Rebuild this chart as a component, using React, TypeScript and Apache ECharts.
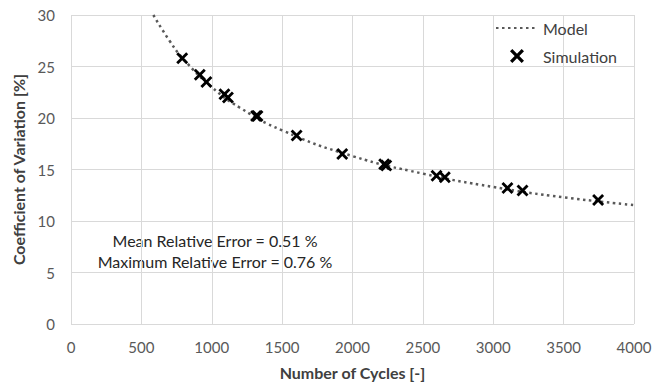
import React, { useEffect, useRef } from "react";
import * as echarts from "echarts";

const modelX = [585, 700, 800, 1000, 1200, 1500, 2000, 2500, 3000, 3500, 4000];
const modelY = [30.0, 27.5, 25.7, 23.0, 21.0, 18.8, 16.3, 14.6, 13.3, 12.3, 11.55];

const simX = [790, 915, 962, 1090, 1115, 1315, 1325, 1603, 1927, 2225, 2240, 2597, 2656, 3101, 3208, 3745];
const simY = [25.8, 24.2, 23.5, 22.3, 22.0, 20.2, 20.2, 18.3, 16.5, 15.5, 15.4, 14.4, 14.25, 13.2, 12.95, 12.05];

const xTicks = { min: 0, max: 4000, interval: 500 };
const yTicks = { min: 0, max: 30, interval: 5 };

const annotations = ["Mean Relative Error = 0.51 %", "Maximum Relative Error = 0.76 %"];

const FONT = "Lato, 'Liberation Sans', sans-serif";
const XSYM = "path://M0,2 L2,0 L6,4 L10,0 L12,2 L8,6 L12,10 L10,12 L6,8 L2,12 L0,10 L4,6 Z";

export default function App() {
  const ref = useRef<HTMLDivElement>(null);
  useEffect(() => {
    if (!ref.current) return;
    const chart = echarts.init(ref.current, null, { renderer: "svg" });
    chart.setOption({
      animation: false,
      backgroundColor: "#ffffff",
      textStyle: { fontFamily: FONT },
      grid: { left: 71, right: 38, top: 15, bottom: 58, containLabel: false },
      legend: {
        orient: "vertical",
        left: 490,
        top: 15,
        itemWidth: 42,
        itemHeight: 14,
        itemGap: 12,
        textStyle: { fontFamily: FONT, fontSize: 16, color: "#404040" },
        data: [
          { name: "Model", itemStyle: { opacity: 0 } },
          { name: "Simulation" },
        ],
      },
      xAxis: {
        type: "value",
        min: xTicks.min,
        max: xTicks.max,
        interval: xTicks.interval,
        name: "Number of Cycles [-]",
        nameLocation: "middle",
        nameGap: 40,
        nameTextStyle: { fontFamily: FONT, fontSize: 16, fontWeight: "bold", color: "#404040" },
        axisLine: { show: false },
        axisTick: { show: false },
        axisLabel: {
          fontFamily: FONT,
          fontSize: 15,
          color: "#595959",
          margin: 15,
          formatter: (v: number) => String(v),
        },
        splitLine: { show: true, lineStyle: { color: "#d9d9d9", width: 1 } },
      },
      yAxis: {
        type: "value",
        min: yTicks.min,
        max: yTicks.max,
        interval: yTicks.interval,
        name: "Coefficient of Variation [%]",
        nameLocation: "middle",
        nameGap: 40,
        nameTextStyle: { fontFamily: FONT, fontSize: 16, fontWeight: "bold", color: "#404040" },
        axisLine: { show: false },
        axisTick: { show: false },
        axisLabel: { fontFamily: FONT, fontSize: 15, color: "#595959", margin: 16 },
        splitLine: { show: true, lineStyle: { color: "#d9d9d9", width: 1 } },
      },
      series: [
        {
          name: "Model",
          type: "line",
          smooth: true,
          symbol: "none",
          data: modelX.map((x, i) => [x, modelY[i]]),
          lineStyle: { color: "#595959", width: 2.5, type: [2.5, 3.5] },
          itemStyle: { color: "#595959" },
          z: 2,
        },
        {
          name: "Simulation",
          type: "scatter",
          symbol: XSYM,
          symbolSize: 12,
          data: simX.map((x, i) => [x, simY[i]]),
          itemStyle: { color: "#000000", opacity: 1 },
          z: 3,
        },
      ],
      graphic: annotations.map((t, i) => ({
        type: "text",
        x: 215,
        y: 240.5 + i * 20.5,
        style: {
          text: t,
          fontFamily: FONT,
          fontSize: 16,
          fill: "#262626",
          align: "center",
          verticalAlign: "middle",
        },
      })),
    });
    return () => chart.dispose();
  }, []);
  return (
    <div
      ref={ref}
      style={{ position: "fixed", left: 0, top: 0, width: 672, height: 385 }}
    />
  );
}
